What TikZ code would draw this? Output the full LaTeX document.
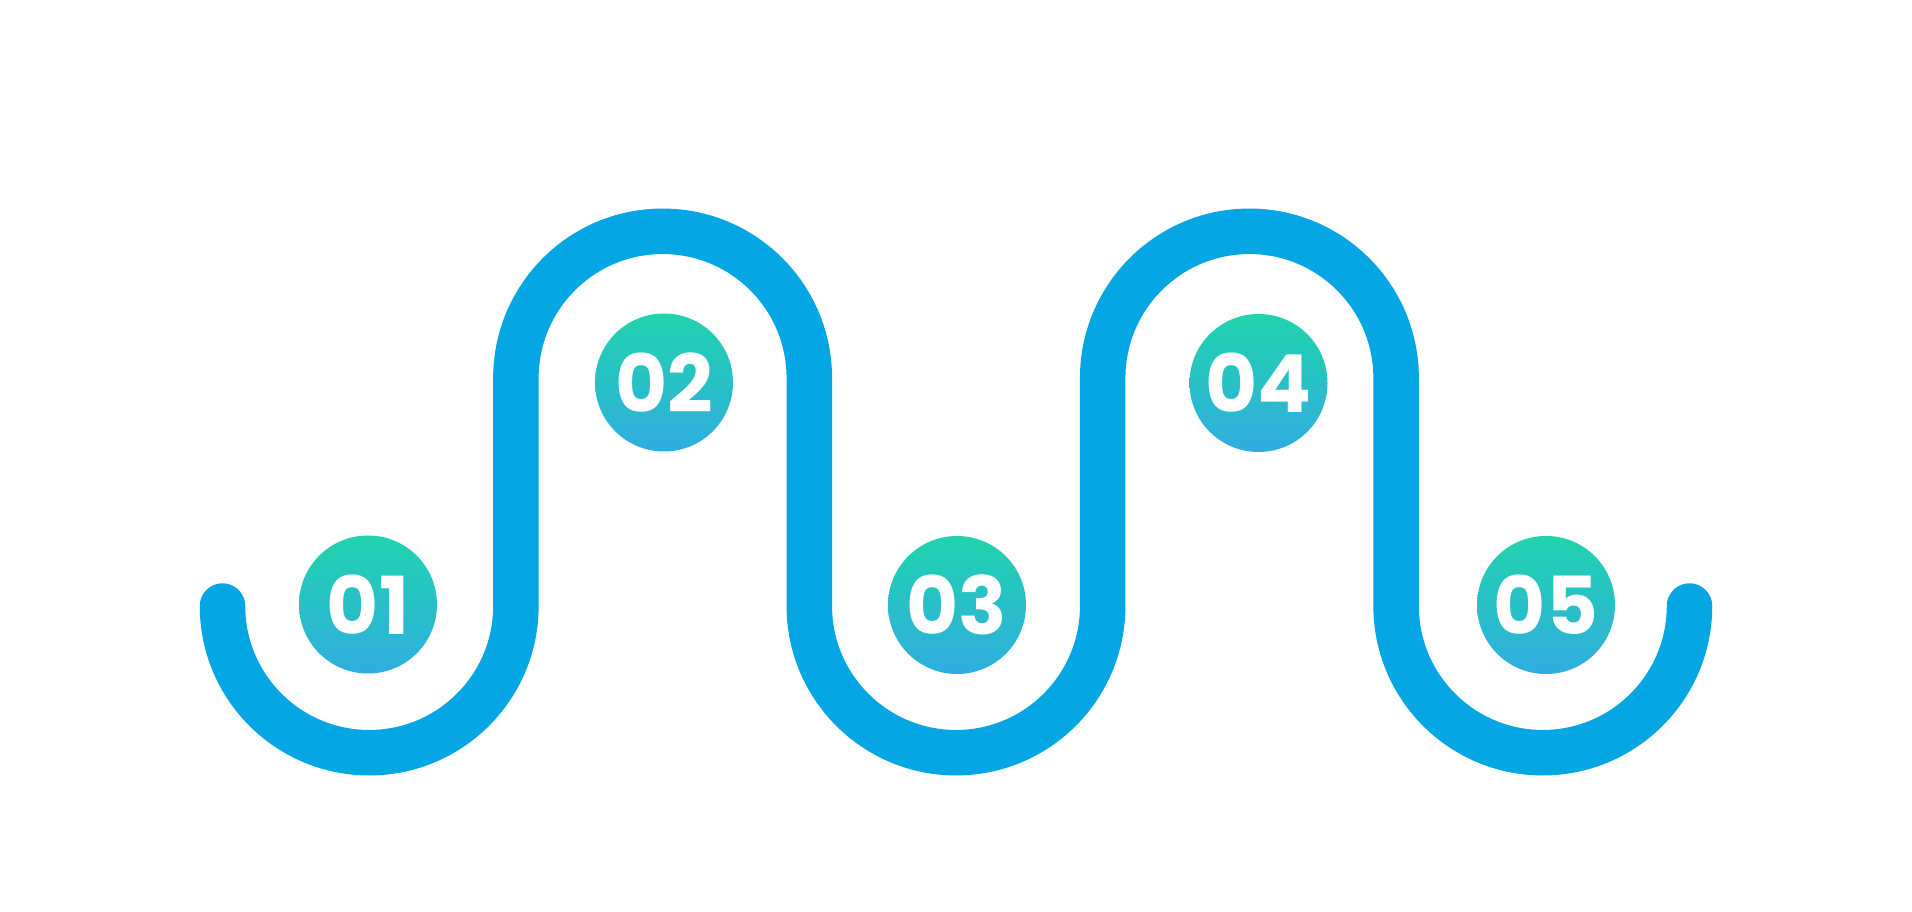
\documentclass[tikz,border=0pt]{standalone}
\usepackage{fontspec}
\newfontfamily\numfont{Poppins}[UprightFont={* Bold}]
\definecolor{wavecol}{RGB}{4,166,228}
\definecolor{ctop}{RGB}{33,211,173}
\definecolor{cmid}{RGB}{43,184,214}
\definecolor{cbot}{RGB}{47,173,224}
\begin{document}
\begin{tikzpicture}[x=1pt,y=1pt,
  wave/.style={draw=wavecol,line width=45.5pt,line cap=round,line join=round},
  numcircle/.style={circle,draw=none,minimum size=138pt,inner sep=0pt,
    top color=ctop,middle color=cmid,bottom color=cbot,
    text=white,font=\numfont\fontsize{80}{80}\selectfont}]
\fill[white] (0,0) rectangle (1912,911);
\useasboundingbox (0,0) rectangle (1912,911);
\draw[wave] (222.5,305)
  arc[start angle=180,end angle=360,radius=146.7pt] -- (515.9,533)
  arc[start angle=180,end angle=0,radius=146.7pt] -- (809.3,305)
  arc[start angle=180,end angle=360,radius=146.7pt] -- (1102.7,533)
  arc[start angle=180,end angle=0,radius=146.7pt] -- (1396.1,305)
  arc[start angle=180,end angle=360,radius=146.7pt];
\node[numcircle] (c1) at (368,306.5) {01};
\node[numcircle] (c2) at (664,528.5) {02};
\node[numcircle] (c3) at (957,306) {03};
\node[numcircle] (c4) at (1258.5,528) {04};
\node[numcircle] (c5) at (1546,306) {05};
\end{tikzpicture}
\end{document}
